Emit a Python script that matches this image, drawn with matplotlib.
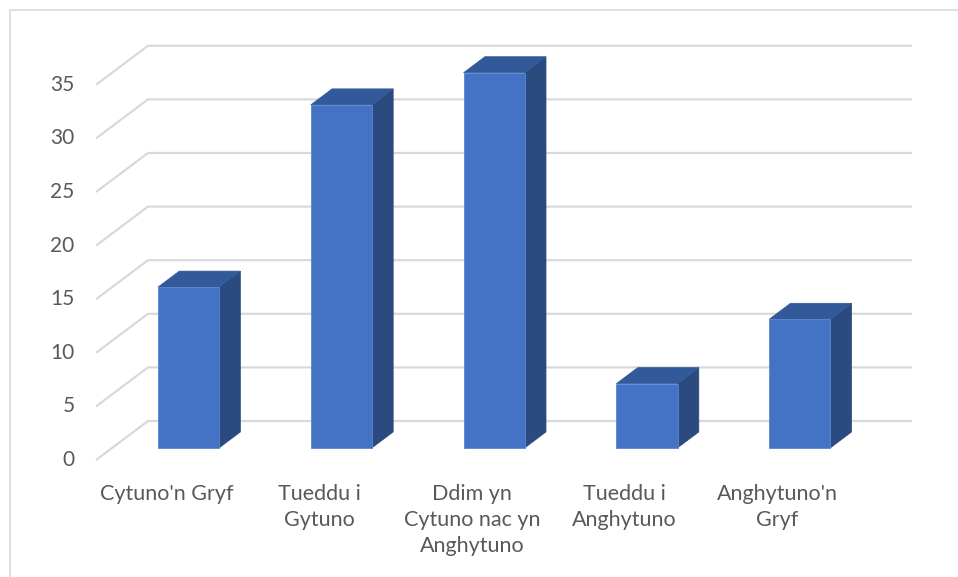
import matplotlib
matplotlib.use("Agg")
from matplotlib import pyplot as plt
from matplotlib.patches import Polygon
import numpy as np

# Data
categories = ["Cytuno'n Gryf", "Tueddu i\nGytuno", "Ddim yn\nCytuno nac yn\nAnghytuno",
              "Tueddu i\nAnghytuno", "Anghytuno'n\nGryf"]
values = [15, 32, 35, 6, 12]
y_ticks = [0, 5, 10, 15, 20, 25, 30, 35]

# Pseudo-3D look (Excel 3-D column)
depth_dx = 0.34      # floor depth, in category units
depth_dy = 3.64      # floor depth, in value units
bar_front = 0.31     # bar front face position along depth
bar_back = 0.72      # bar back face position along depth
bar_width = 0.40

front_col = '#4472C4'
top_col = '#32599A'
side_col = '#2B4A80'
grid_col = '#D9D9D9'
text_col = '#595959'

plt.rcParams['font.family'] = ['Lato', 'DejaVu Sans']

fig = plt.figure(figsize=(9.58, 5.77), dpi=100)
ax = fig.add_axes([0, 0, 1, 1])
ax.set_xlim(-0.6283, 5.641)
ax.set_ylim(-10.91, 42.91)
ax.axis('off')

n = len(categories)

# grid: left wall diagonals + back wall lines
for v in y_ticks:
    ax.plot([0, depth_dx, n + depth_dx], [v, v + depth_dy, v + depth_dy],
            color=grid_col, lw=1.6, solid_capstyle='butt', zorder=1)
    ax.text(-0.14, v, str(v), ha='right', va='center', fontsize=15, color=text_col)

# bars
fx, fy = bar_front * depth_dx, bar_front * depth_dy
bx, by = bar_back * depth_dx, bar_back * depth_dy
for i, v in enumerate(values):
    x0 = i + 0.5 - bar_width / 2 + fx
    x1 = x0 + bar_width
    y0 = fy
    y1 = fy + v
    ddx, ddy = bx - fx, by - fy
    front = Polygon([(x0, y0), (x1, y0), (x1, y1), (x0, y1)], closed=True,
                    facecolor=front_col, edgecolor='#5B86CF', lw=0.6, zorder=3)
    side = Polygon([(x1, y0), (x1 + ddx, y0 + ddy), (x1 + ddx, y1 + ddy), (x1, y1)],
                   closed=True, facecolor=side_col, edgecolor=side_col, lw=0.5, zorder=3)
    top = Polygon([(x0, y1), (x1, y1), (x1 + ddx, y1 + ddy), (x0 + ddx, y1 + ddy)],
                  closed=True, facecolor=top_col, edgecolor=top_col, lw=0.5, zorder=3)
    for p in (side, top, front):
        ax.add_patch(p)

# category labels
for i, c in enumerate(categories):
    ax.text(i + 0.46, -2.2, c, ha='center', va='top', fontsize=15.5,
            color=text_col, linespacing=1.4)

# chart frame (top and left edges visible)
fig.add_artist(plt.Line2D([9.5 / 958, 9.5 / 958], [0, 1 - 9.5 / 577],
                          color='#D9D9D9', lw=1.2, transform=fig.transFigure))
fig.add_artist(plt.Line2D([9.5 / 958, 1], [1 - 9.5 / 577, 1 - 9.5 / 577],
                          color='#D9D9D9', lw=1.2, transform=fig.transFigure))

fig.savefig('out.png', dpi=100, facecolor='white')
